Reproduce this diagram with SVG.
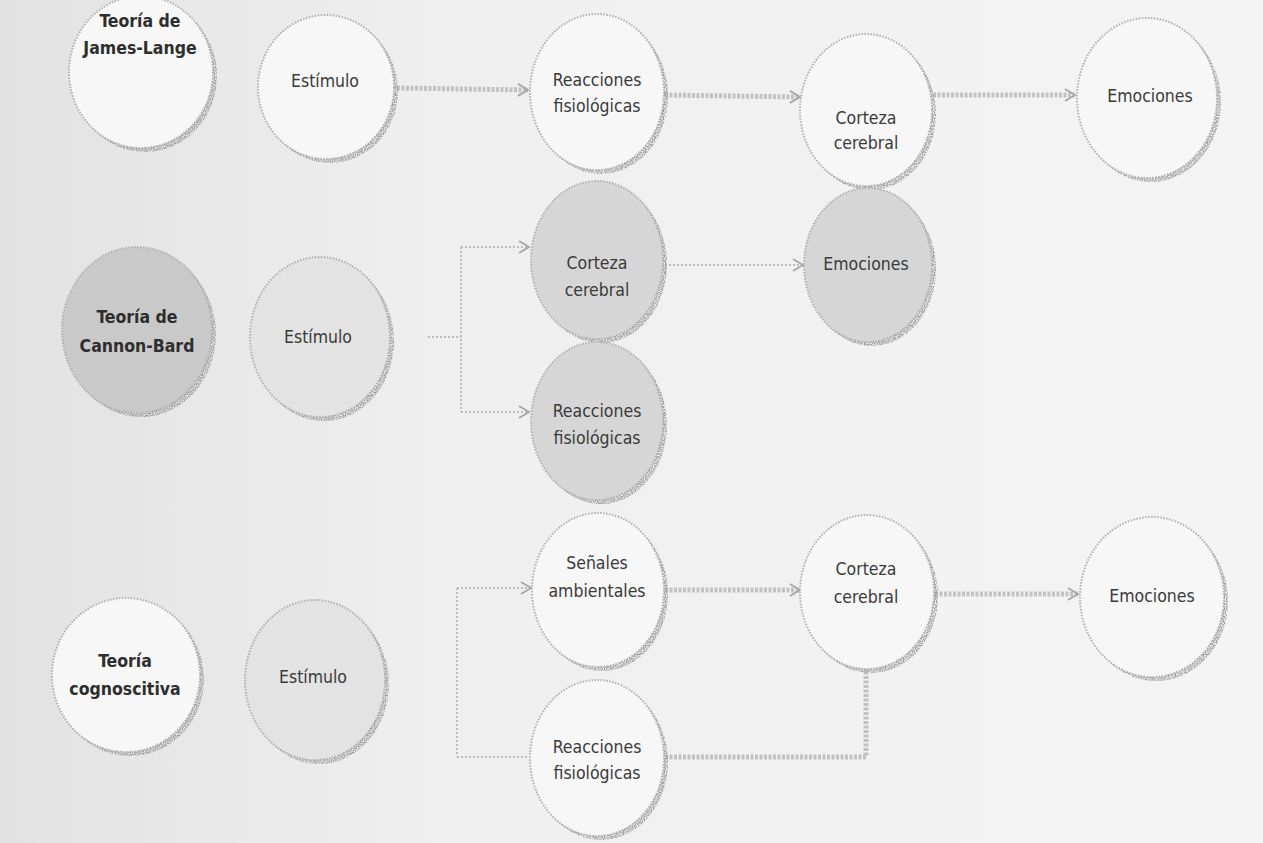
<svg xmlns="http://www.w3.org/2000/svg" width="1263" height="843" viewBox="0 0 1263 843">
<defs>
<linearGradient id="bg" x1="0" y1="0" x2="1" y2="0">
<stop offset="0" stop-color="#e2e2e2"/>
<stop offset="0.35" stop-color="#efefef"/>
<stop offset="1" stop-color="#f4f4f4"/>
</linearGradient>
<filter id="grain" x="-10%" y="-10%" width="120%" height="120%">
<feTurbulence type="fractalNoise" baseFrequency="0.9" numOctaves="1" seed="3" result="n"/>
<feColorMatrix in="n" type="matrix" values="0 0 0 0 0  0 0 0 0 0  0 0 0 0 0  0 0 0 -3 2" result="a"/>
<feComposite in="SourceGraphic" in2="a" operator="in"/>
</filter>
<marker id="ah" viewBox="0 0 12 14" refX="11" refY="7" markerWidth="12" markerHeight="14" markerUnits="userSpaceOnUse" orient="auto">
<path d="M1,1 L11,7 L1,13" fill="none" stroke="#a8a8a8" stroke-width="2"/>
</marker>
</defs>
<style>
.sh{fill:#9a9a9a;filter:url(#grain)}
.c{stroke:#b0b0b0;stroke-width:2;stroke-dasharray:1.5 1.5}
.w{fill:#f7f7f7}
.g1{fill:#d6d6d6}
.g2{fill:#c9c9c9}
.g3{fill:#e3e3e3}
.t{font-family:"DejaVu Sans Condensed","DejaVu Sans",sans-serif;font-size:17.5px;fill:#3a3a3a;text-anchor:middle}
.b{font-weight:bold;font-size:17.5px;fill:#2e2e2e}
.thick{fill:none;stroke:#c2c2c2;stroke-width:5;stroke-dasharray:3 1.5}
.thin{fill:none;stroke:#bdbdbd;stroke-width:2;stroke-dasharray:2 2}
</style>
<rect width="1263" height="843" fill="url(#bg)"/>

<g id="connectors">
<path class="thick" d="M397,88 L528,90" marker-end="url(#ah)"/>
<path class="thick" d="M665,95 L800,97" marker-end="url(#ah)"/>
<path class="thick" d="M933,95 L1075,95" marker-end="url(#ah)"/>
<path class="thin" d="M428,337 L461,337"/>
<path class="thin" d="M461,247 L461,412"/>
<path class="thin" d="M461,247 L529,247" marker-end="url(#ah)"/>
<path class="thin" d="M461,412 L529,412" marker-end="url(#ah)"/>
<path class="thin" d="M665,265 L803,265" marker-end="url(#ah)"/>
<path class="thin" d="M457,588 L457,757"/>
<path class="thin" d="M457,588 L531,588" marker-end="url(#ah)"/>
<path class="thin" d="M457,757 L529,757"/>
<path class="thick" d="M665,590 L800,590" marker-end="url(#ah)"/>
<path class="thick" d="M935,594 L1078,594" marker-end="url(#ah)"/>
<path class="thick" d="M665,757 L866,757 L866,670"/>
</g>

<g id="n-james-lange">
<ellipse class="sh" cx="145" cy="76" rx="72" ry="76"/>
<ellipse class="c w" cx="141" cy="72" rx="72" ry="76"/>
<text class="t b" x="140" y="27">Teoría de</text>
<text class="t b" x="140" y="54">James-Lange</text>
</g>
<g id="n-estimulo-1">
<ellipse class="sh" cx="330" cy="91" rx="68" ry="72"/>
<ellipse class="c w" cx="326" cy="87" rx="68" ry="72"/>
<text class="t" x="325" y="87">Estímulo</text>
</g>
<g id="n-reacciones-1">
<ellipse class="sh" cx="601" cy="96" rx="67" ry="78"/>
<ellipse class="c w" cx="597" cy="92" rx="67" ry="78"/>
<text class="t" x="597" y="86">Reacciones</text>
<text class="t" x="597" y="112">fisiológicas</text>
</g>
<g id="n-corteza-1">
<ellipse class="sh" cx="870" cy="114" rx="66" ry="76"/>
<ellipse class="c w" cx="866" cy="110" rx="66" ry="76"/>
<text class="t" x="866" y="124">Corteza</text>
<text class="t" x="866" y="149">cerebral</text>
</g>
<g id="n-emociones-1">
<ellipse class="sh" cx="1151" cy="102" rx="70" ry="80"/>
<ellipse class="c w" cx="1147" cy="98" rx="70" ry="80"/>
<text class="t" x="1150" y="102">Emociones</text>
</g>

<g id="n-cannon-bard">
<ellipse class="sh" cx="141" cy="334" rx="75" ry="83"/>
<ellipse class="c g2" cx="137" cy="330" rx="75" ry="83"/>
<text class="t b" x="137" y="323">Teoría de</text>
<text class="t b" x="137" y="352">Cannon-Bard</text>
</g>
<g id="n-estimulo-2">
<ellipse class="sh" cx="324" cy="341" rx="70" ry="80"/>
<ellipse class="c g3" cx="320" cy="337" rx="70" ry="80"/>
<text class="t" x="318" y="343">Estímulo</text>
</g>
<g id="n-corteza-2">
<ellipse class="sh" cx="601" cy="264" rx="66" ry="79"/>
<ellipse class="c g1" cx="597" cy="260" rx="66" ry="79"/>
<text class="t" x="597" y="269">Corteza</text>
<text class="t" x="597" y="296">cerebral</text>
</g>
<g id="n-reacciones-2">
<ellipse class="sh" cx="601" cy="425" rx="66" ry="79"/>
<ellipse class="c g1" cx="597" cy="421" rx="66" ry="79"/>
<text class="t" x="597" y="417">Reacciones</text>
<text class="t" x="597" y="444">fisiológicas</text>
</g>
<g id="n-emociones-2">
<ellipse class="sh" cx="872" cy="269" rx="64" ry="77"/>
<ellipse class="c g1" cx="868" cy="265" rx="64" ry="77"/>
<text class="t" x="866" y="270">Emociones</text>
</g>

<g id="n-cognoscitiva">
<ellipse class="sh" cx="130" cy="679" rx="74" ry="77"/>
<ellipse class="c w" cx="126" cy="675" rx="74" ry="77"/>
<text class="t b" x="125" y="667">Teoría</text>
<text class="t b" x="125" y="695">cognoscitiva</text>
</g>
<g id="n-estimulo-3">
<ellipse class="sh" cx="319" cy="684" rx="70" ry="80"/>
<ellipse class="c g3" cx="315" cy="680" rx="70" ry="80"/>
<text class="t" x="313" y="683">Estímulo</text>
</g>
<g id="n-senales">
<ellipse class="sh" cx="602" cy="594" rx="66" ry="77"/>
<ellipse class="c w" cx="598" cy="590" rx="66" ry="77"/>
<text class="t" x="597" y="569">Señales</text>
<text class="t" x="597" y="597">ambientales</text>
</g>
<g id="n-corteza-3">
<ellipse class="sh" cx="871" cy="596" rx="67" ry="77"/>
<ellipse class="c w" cx="867" cy="592" rx="67" ry="77"/>
<text class="t" x="866" y="575">Corteza</text>
<text class="t" x="866" y="603">cerebral</text>
</g>
<g id="n-emociones-3">
<ellipse class="sh" cx="1156" cy="601" rx="72" ry="80"/>
<ellipse class="c w" cx="1152" cy="597" rx="72" ry="80"/>
<text class="t" x="1152" y="602">Emociones</text>
</g>
<g id="n-reacciones-3">
<ellipse class="sh" cx="601" cy="762" rx="67" ry="78"/>
<ellipse class="c w" cx="597" cy="758" rx="67" ry="78"/>
<text class="t" x="597" y="753">Reacciones</text>
<text class="t" x="597" y="779">fisiológicas</text>
</g>
</svg>
